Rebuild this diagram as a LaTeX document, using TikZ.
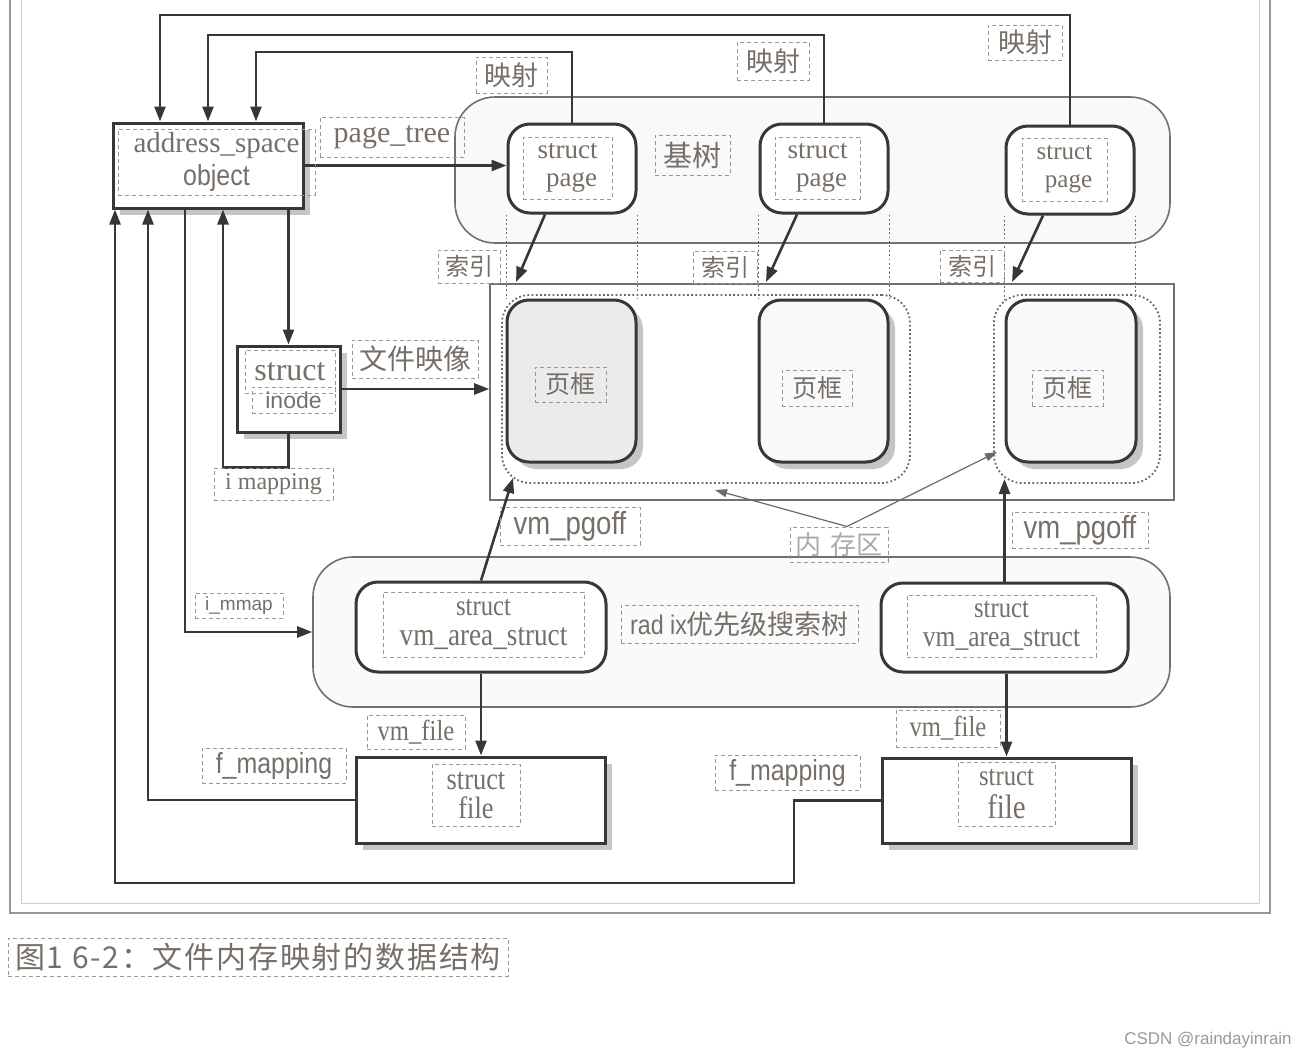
\documentclass[tikz,border=0pt]{standalone}
\usepackage{fontspec}
\setmainfont{Liberation Serif}
\setsansfont{Liberation Sans}
\newfontfamily\cjk{Noto Sans CJK SC}
\newfontfamily\cjkwide[LetterSpace=6]{Noto Sans CJK SC}
\newfontfamily\narrow[FakeStretch=0.86]{Liberation Sans}
\newfontfamily\narrowser[FakeStretch=0.85]{Liberation Serif}
\usepackage{tikz}
\usetikzlibrary{arrows.meta}
\usetikzlibrary{shadows}

\definecolor{linec}{RGB}{55,55,55}
\definecolor{boxc}{RGB}{112,112,112}
\definecolor{framec}{RGB}{150,150,150}
\definecolor{textc}{RGB}{118,111,104}
\definecolor{tagc}{RGB}{150,150,160}

\tikzset{
  arr/.style={draw=linec, line width=2.6pt, -{Triangle[length=15pt,width=11pt]}},
  thinarr/.style={draw=linec!75, line width=1.2pt, -{Triangle[length=12pt,width=8pt]}},
  plainbox/.style={draw=linec, line width=3pt, fill=white, inner sep=0pt},
  roundbox/.style={plainbox, rounded corners=22pt},
  shade/.style={drop shadow={shadow xshift=7pt, shadow yshift=-7pt, opacity=.45}},
  holder/.style={draw=boxc, line width=1.6pt, rounded corners=40pt, inner sep=0pt},
  dotrect/.style={draw=linec!75, line width=1.8pt, dash pattern=on 1.8pt off 2.4pt, rounded corners=28pt, inner sep=0pt},
  dotline/.style={draw=linec!75, line width=1.5pt, dash pattern=on 1.8pt off 2.6pt},
  lbl/.style={draw=tagc, dash pattern=on 4pt off 3pt, line width=1pt, text=textc, inner sep=0pt, align=center},
  ser/.style={font=\fontsize{#1}{#1}\selectfont},
  nser/.style={font=\narrowser\fontsize{#1}{#1}\selectfont},
  sanf/.style={font=\narrow\fontsize{#1}{#1}\selectfont},
  cjkf/.style={font=\cjk\fontsize{#1}{#1}\selectfont}
}

% box from corner (#2,#3) to corner (#4,#5)
\newcommand{\cellbox}[6]{\node[#6, minimum width={(#4-#2)*1pt}, minimum height={(#5-#3)*1pt}] (#1) at ({(#2+#4)/2},{(#3+#5)/2}) {};}
% dashed text box from corner (#2,#3) to corner (#4,#5)
\newcommand{\lblbox}[7]{\node[lbl, #6, minimum width={(#4-#2)*1pt}, minimum height={(#5-#3)*1pt}] (#1) at ({(#2+#4)/2},{(#3+#5)/2}) {#7};}

\begin{document}
\begin{tikzpicture}[x=1pt,y=-1pt]
            \useasboundingbox (0,0) rectangle (1310,1060);

            % frame
            \draw[draw=framec, line width=1.5pt] (10,-5) -- (10,913) -- (1270,913) -- (1270,-5);
            \draw[draw=framec!45, line width=1pt] (21,-5) -- (21,903) -- (1259,903) -- (1259,-5);

            % holders
            \cellbox{radixtop}{455}{97}{1170}{243}{holder, fill=gray!5}
            \cellbox{frmbox}{490}{284}{1174}{500}{draw=boxc, line width=1.6pt, fill=white, inner sep=0pt}
            \cellbox{vmabg}{313}{557}{1170}{707}{holder, fill=gray!4}
            \cellbox{dot1}{502}{295}{910}{483}{dotrect}
            \cellbox{dot2}{994}{295}{1160}{483}{dotrect}

            % row 1
            \cellbox{asp}{113}{123}{303}{208}{plainbox, shade}
            \cellbox{pg1}{508}{124}{636}{213}{roundbox}
            \cellbox{pg2}{760}{124}{888}{213}{roundbox}
            \cellbox{pg3}{1006}{126}{1134}{214}{roundbox}

            \foreach \b in {pg1,pg2,pg3}{
              \draw[dotline] (\b.south west) -- ++(0,84);
              \draw[dotline] (\b.south east) -- ++(0,84);
            }

            % row 2
            \cellbox{fr1}{507}{300}{636}{462}{roundbox, fill=gray!16, shade}
            \cellbox{fr2}{759}{300}{888}{462}{roundbox, fill=gray!5, shade}
            \cellbox{fr3}{1006}{300}{1136}{462}{roundbox, fill=gray!5, shade}
            \cellbox{inode}{237}{346}{340}{432}{plainbox, shade}

            % row 3
            \cellbox{vma1}{356}{582}{606}{672}{roundbox}
            \cellbox{vma2}{881}{583}{1128}{672}{roundbox}

            % row 4
            \cellbox{file1}{356}{757}{605}{843}{plainbox, shade}
            \cellbox{file2}{882}{758}{1131}{843}{plainbox, shade}

            % mapping back to address_space
            \coordinate (hi1) at (0,15);
            \coordinate (hi2) at (0,35);
            \coordinate (hi3) at (0,52);
            \draw[arr] (pg3.north) -- (pg3.north |- hi1) -| ([xshift=-48pt]asp.north);
            \draw[arr] (pg2.north) -- (pg2.north |- hi2) -| (asp.north);
            \draw[arr] (pg1.north) -- (pg1.north |- hi3) -| ([xshift=48pt]asp.north);

            \draw[arr] (asp.east) -- (asp.east -| pg1.west);

            % index arrows
            \coordinate (ix1) at (516,282);
            \coordinate (ix2) at (766,282);
            \coordinate (ix3) at (1012,282);
            \draw[arr] ([xshift=-27pt]pg1.south) -- (ix1);
            \draw[arr] ([xshift=-27pt]pg2.south) -- (ix2);
            \draw[arr] ([xshift=-27pt]pg3.south) -- (ix3);

            % inode
            \draw[arr] (asp.south -| inode.north) -- (inode.north);
            \draw[arr] (inode.south) -- ++(0,34) -| ([xshift=15pt]asp.south);
            \draw[arr] (inode.east) -- (inode.east -| frmbox.west);

            \draw[arr] ([xshift=-23pt]asp.south) |- (vmabg.west);

            % f_mapping
            \coordinate (fmbend) at (794,883);
            \draw[arr] (file1.west) -| ([xshift=-60pt]asp.south);
            \draw[arr] (file2.west) -| (fmbend) -| ([xshift=-93pt]asp.south);

            % vm_pgoff and vm_file
            \coordinate (pgo1) at (513,478);
            \coordinate (pgo2) at (0,479);
            \draw[arr] (vma1.north) -- (pgo1);
            \draw[arr] (vma2.north) -- (vma2.north |- pgo2);
            \draw[arr] (vma1.south) -- (vma1.south |- file1.north);
            \draw[arr] (vma2.south -| file2.north) -- (file2.north);

            % labels
            \lblbox{asptxt}{118}{129}{315}{195}{font=\fontsize{29}{33}\selectfont}{address\_space\\{\narrow object}}
            \lblbox{ptree}{320}{117}{464}{157}{ser=30}{page\_tree}
            \lblbox{map1}{476}{57}{547}{93}{cjkf=27}{映射}
            \lblbox{map2}{737}{42}{809}{80}{cjkf=27}{映射}
            \lblbox{map3}{988}{25}{1062}{60}{cjkf=27}{映射}
            \lblbox{pgt1}{523}{137}{612}{199}{font=\fontsize{27}{28}\selectfont}{struct\\\hspace{8pt}page}
            \lblbox{pgt2}{775}{137}{860}{199}{font=\fontsize{27}{28}\selectfont}{struct\\\hspace{8pt}page}
            \lblbox{pgt3}{1022}{138}{1107}{201}{font=\fontsize{25}{28}\selectfont}{struct\\\hspace{8pt}page}
            \lblbox{jishu}{655}{135}{730}{175}{cjkf=29}{基树}
            \lblbox{idx1}{438}{250}{500}{283}{cjkf=24}{索引}
            \lblbox{idx2}{693}{251}{757}{283}{cjkf=24}{索引}
            \lblbox{idx3}{940}{250}{1004}{282}{cjkf=24}{索引}
            \lblbox{frt1}{535}{367}{606}{402}{cjkf=25}{页框}
            \lblbox{frt2}{782}{370}{852}{406}{cjkf=25}{页框}
            \lblbox{frt3}{1032}{370}{1103}{406}{cjkf=25}{页框}
            \lblbox{wjyx}{352}{340}{478}{378}{cjkf=28}{文件映像}
            \lblbox{inodet1}{245}{350}{335}{393}{ser=32}{struct}
            \lblbox{inodet2}{252}{387}{335}{413}{font=\sffamily\fontsize{23}{23}\selectfont}{inode}
            \lblbox{imap}{214}{468}{333}{500}{ser=24}{i mapping}
            \lblbox{immap}{195}{593}{283}{618}{font=\sffamily\fontsize{19}{19}\selectfont}{i\_mmap}
            \lblbox{pgoff1}{500}{507}{640}{545}{sanf=32}{vm\_pgoff}
            \lblbox{pgoff2}{1012}{512}{1148}{548}{sanf=32}{vm\_pgoff}
            \lblbox{mem}{790}{527}{888}{562}{cjkf=26, text=textc!60}{内\hspace{10pt}存区}
            \lblbox{radix}{621}{605}{858}{643}{cjkf=27}{{\narrow rad ix}优先级搜索树}
            \lblbox{vmat1}{383}{592}{584}{657}{font=\narrowser\fontsize{32}{30}\selectfont}{{\fontsize{29}{29}\selectfont struct}\\vm\_area\_struct}
            \lblbox{vmat2}{907}{595}{1096}{657}{font=\narrowser\fontsize{30}{29}\selectfont}{{\fontsize{29}{29}\selectfont struct}\\vm\_area\_struct}
            \lblbox{vmf1}{367}{715}{465}{749}{nser=29}{vm\_file}
            \lblbox{vmf2}{896}{710}{1000}{747}{nser=29}{vm\_file}
            \lblbox{fmap1}{202}{748}{346}{783}{sanf=29}{f\_mapping}
            \lblbox{fmap2}{715}{755}{860}{790}{sanf=29}{f\_mapping}
            \lblbox{filet1}{432}{764}{520}{826}{font=\narrowser\fontsize{31}{29}\selectfont}{struct\\file}
            \lblbox{filet2}{958}{762}{1055}{826}{font=\narrowser\fontsize{29}{33}\selectfont}{struct\\{\fontsize{34}{34}\selectfont file}}

            % memory area pointers
            \coordinate (mem1) at (715,490);
            \coordinate (mem2) at (997,452);
            \draw[thinarr] ([xshift=8pt]mem.north) -- (mem1);
            \draw[thinarr] ([xshift=8pt]mem.north) -- (mem2);

            % caption
            \lblbox{caption}{8}{938}{508}{976}{font=\cjkwide\fontsize{30}{30}\selectfont}{图1 6-2：文件内存映射的数据结构}
            \node[text=gray!80, font=\sffamily\fontsize{17}{17}\selectfont] (mark) at (1208,1040) {CSDN @raindayinrain};

        \end{tikzpicture}
\end{document}
